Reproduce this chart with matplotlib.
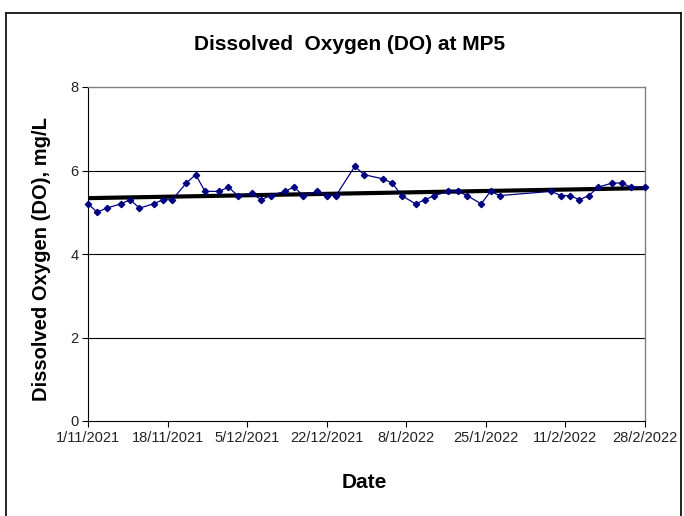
import matplotlib
matplotlib.use("Agg")
import matplotlib.pyplot as plt
import matplotlib.dates as mdates
import numpy as np
import pandas as pd
from matplotlib.lines import Line2D

plt.rcParams['font.family'] = ['Liberation Sans', 'DejaVu Sans']

dates = ["2021-11-01", "2021-11-03", "2021-11-05", "2021-11-08", "2021-11-10", "2021-11-12",
         "2021-11-15", "2021-11-17", "2021-11-19", "2021-11-22", "2021-11-24", "2021-11-26",
         "2021-11-29", "2021-12-01", "2021-12-03", "2021-12-06", "2021-12-08", "2021-12-10",
         "2021-12-13", "2021-12-15", "2021-12-17", "2021-12-20", "2021-12-22", "2021-12-24",
         "2021-12-28", "2021-12-30", "2022-01-03", "2022-01-05", "2022-01-07", "2022-01-10",
         "2022-01-12", "2022-01-14", "2022-01-17", "2022-01-19", "2022-01-21", "2022-01-24",
         "2022-01-26", "2022-01-28", "2022-02-08", "2022-02-10", "2022-02-12", "2022-02-14",
         "2022-02-16", "2022-02-18", "2022-02-21", "2022-02-23", "2022-02-25", "2022-02-28"]
do_values = [5.2, 5.0, 5.1, 5.2, 5.3, 5.1,
             5.2, 5.3, 5.3, 5.7, 5.9, 5.5,
             5.5, 5.6, 5.4, 5.45, 5.3, 5.4,
             5.5, 5.6, 5.4, 5.5, 5.4, 5.4,
             6.1, 5.9, 5.8, 5.7, 5.4, 5.2,
             5.3, 5.4, 5.5, 5.5, 5.4, 5.2,
             5.5, 5.4, 5.5, 5.4, 5.4, 5.3,
             5.4, 5.6, 5.7, 5.7, 5.6, 5.6]
tick_labels = ["1/11/2021", "18/11/2021", "5/12/2021", "22/12/2021", "8/1/2022",
               "25/1/2022", "11/2/2022", "28/2/2022"]
y_ticks = [0, 2, 4, 6, 8]

x = pd.to_datetime(dates)
xn = mdates.date2num(x)

fig = plt.figure(figsize=(6.84, 5.16), dpi=100)
ax = fig.add_axes([88/684, 1-421/516, (645-88)/684, (421-87)/516])

x0 = mdates.date2num(pd.Timestamp("2021-11-01"))
x1 = mdates.date2num(pd.Timestamp("2022-02-28"))
ax.set_xlim(x0, x1)
ax.set_ylim(0, 8)

for yv in y_ticks[1:-1]:
    ax.axhline(yv, color='black', lw=0.8, zorder=1)

# trend line (linear least squares)
p = np.polyfit(xn, do_values, 1)
tx = np.array([x0, x1])
ax.plot(tx, np.polyval(p, tx), color='black', lw=3, zorder=2, solid_capstyle='butt')

ax.plot(xn, do_values, color='#000080', lw=0.9, marker='D', markersize=3.2,
        markerfacecolor='#000080', markeredgecolor='#000080', zorder=3, clip_on=False)

tick_pos = [mdates.date2num(pd.to_datetime(t, dayfirst=True)) for t in tick_labels]
ax.set_xticks(tick_pos)
ax.set_xticklabels(tick_labels, fontsize=10.5, color='#222222')
ax.set_yticks(y_ticks)
ax.set_yticklabels([str(v) for v in y_ticks], fontsize=10.5, color='#222222')
ax.tick_params(direction='out', length=4, width=0.8, color='black')
ax.tick_params(axis='x', pad=3)
ax.tick_params(axis='y', pad=3)

for s in ['top', 'right']:
    ax.spines[s].set_color('#808080')
    ax.spines[s].set_linewidth(1.0)
for s in ['left', 'bottom']:
    ax.spines[s].set_color('black')
    ax.spines[s].set_linewidth(0.8)

fig.text(350/684, 1-44/516, "Dissolved  Oxygen (DO) at MP5", ha='center', va='center',
         fontsize=15, fontweight='bold')
fig.text(364/684, 1-482/516, "Date", ha='center', va='center', fontsize=15, fontweight='bold')
fig.text(42/684, 1-259/516, "Dissolved Oxygen (DO), mg/L", ha='center', va='center',
         rotation=90, fontsize=14.5, fontweight='bold')

# figure frame
fig.add_artist(Line2D([6/684, 6/684], [0, 1-13/516], transform=fig.transFigure, color='black', lw=1.2))
fig.add_artist(Line2D([6/684, 681/684], [1-13/516, 1-13/516], transform=fig.transFigure, color='black', lw=1.2))
fig.add_artist(Line2D([681/684, 681/684], [0, 1-13/516], transform=fig.transFigure, color='black', lw=1.2))

fig.savefig("out.png", dpi=100)
